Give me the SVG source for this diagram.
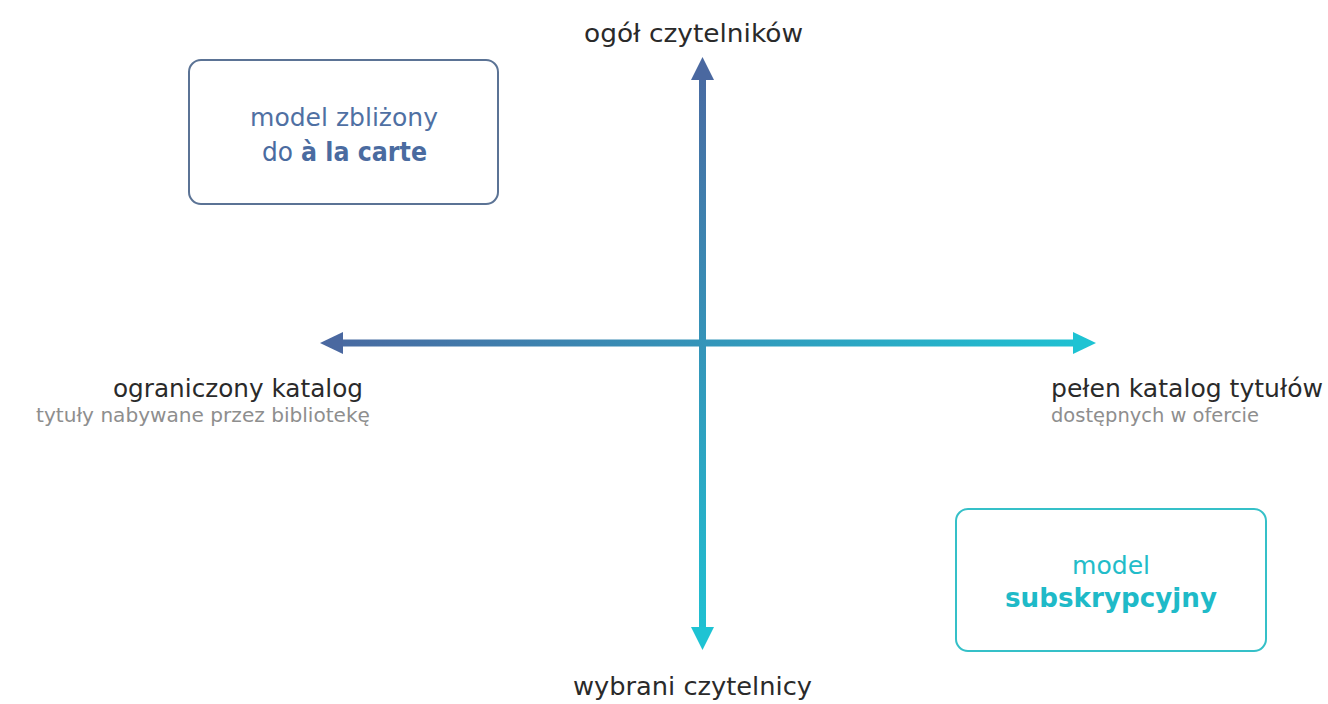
<svg xmlns="http://www.w3.org/2000/svg" width="1328" height="704" viewBox="0 0 1328 704">
<defs>
<linearGradient id="gv" x1="0" y1="57" x2="0" y2="650" gradientUnits="userSpaceOnUse">
<stop offset="0" stop-color="#4a68a0"/>
<stop offset="1" stop-color="#1ec3d3"/>
</linearGradient>
<linearGradient id="gh" x1="320" y1="0" x2="1096" y2="0" gradientUnits="userSpaceOnUse">
<stop offset="0" stop-color="#4a68a0"/>
<stop offset="1" stop-color="#1ec3d3"/>
</linearGradient>
<style>
.lbl{font-family:"DejaVu Sans","Open Sans","Liberation Sans",sans-serif;font-size:24px;fill:#2a2a2a}
.sub{font-family:"DejaVu Sans","Open Sans","Liberation Sans",sans-serif;font-size:20px;fill:#8e8e8e}
.bt{font-family:"DejaVu Sans","Open Sans","Liberation Sans",sans-serif;text-anchor:middle}
.bs{font-family:"DejaVu Sans","Open Sans","Liberation Sans",sans-serif}
</style>
</defs>
<rect width="1328" height="704" fill="#ffffff"/>
<g id="connectors">
<rect x="699" y="78" width="7" height="552" fill="url(#gv)"/>
<polygon points="702.5,57 691,80 714,80" fill="#4a68a0"/>
<polygon points="702.5,650 691,627 714,627" fill="#1ec3d3"/>
<rect x="342" y="339.5" width="732" height="7" fill="url(#gh)"/>
<polygon points="320,343 343,332 343,354" fill="#4a68a0"/>
<polygon points="1096,343 1073,332 1073,354" fill="#1ec3d3"/>
</g>
<g id="node-alacarte">
<rect x="189" y="60" width="309" height="144" rx="12" fill="#ffffff" stroke="#5b7395" stroke-width="2"/>
<text class="bt" x="344" y="126" font-size="24" fill="#4f70a3" textLength="188" lengthAdjust="spacingAndGlyphs">model zbliżony</text>
<text class="bs" x="262" y="161" font-size="27" fill="#4a6ba0" textLength="31" lengthAdjust="spacingAndGlyphs">do</text>
<text class="bs" x="301" y="161" font-size="27" font-weight="bold" fill="#4a6ba0" textLength="126" lengthAdjust="spacingAndGlyphs">à la carte</text>
</g>
<g id="node-subskrypcyjny">
<rect x="956" y="509" width="310" height="142" rx="12" fill="#ffffff" stroke="#35c0c8" stroke-width="2"/>
<text class="bt" x="1111" y="574" font-size="24" fill="#22bcc9" textLength="78" lengthAdjust="spacingAndGlyphs">model</text>
<text class="bt" x="1111" y="607" font-size="27" font-weight="bold" fill="#1fbac8" textLength="212" lengthAdjust="spacingAndGlyphs">subskrypcyjny</text>
</g>
<g id="label-top">
<text class="lbl" x="693.5" y="42" text-anchor="middle" textLength="219" lengthAdjust="spacingAndGlyphs">ogół czytelników</text>
</g>
<g id="label-bottom">
<text class="lbl" x="692.5" y="695" text-anchor="middle" textLength="239" lengthAdjust="spacingAndGlyphs">wybrani czytelnicy</text>
</g>
<g id="label-left">
<text class="lbl" x="363" y="397" text-anchor="end" textLength="250" lengthAdjust="spacingAndGlyphs">ograniczony katalog</text>
<text class="sub" x="370" y="422" text-anchor="end" textLength="334" lengthAdjust="spacingAndGlyphs">tytuły nabywane przez bibliotekę</text>
</g>
<g id="label-right">
<text class="lbl" x="1051" y="397" textLength="272" lengthAdjust="spacingAndGlyphs">pełen katalog tytułów</text>
<text class="sub" x="1051" y="422" textLength="208" lengthAdjust="spacingAndGlyphs">dostępnych w ofercie</text>
</g>
</svg>
